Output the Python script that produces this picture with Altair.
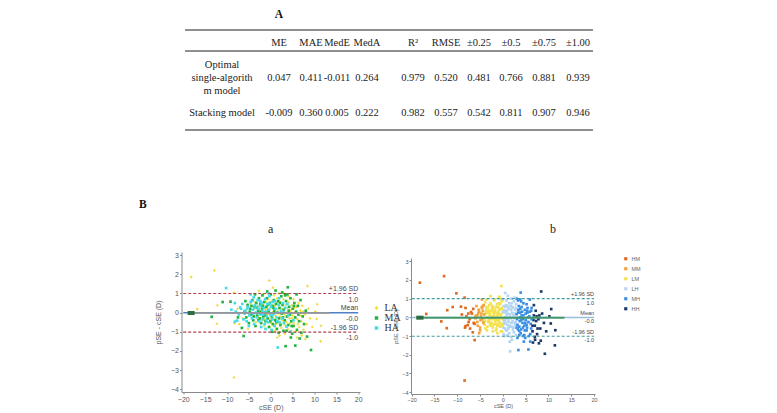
import altair as alt
import pandas as pd

# ---------------- Panel A: accuracy metrics of the two models ----------------
metric_names = ["ME", "MAE", "MedE", "MedA", "R²", "RMSE", "±0.25", "±0.5", "±0.75", "±1.00"]
optimal_single = [0.047, 0.411, -0.011, 0.264, 0.979, 0.520, 0.481, 0.766, 0.881, 0.939]
stacking = [-0.009, 0.360, 0.005, 0.222, 0.982, 0.557, 0.542, 0.811, 0.907, 0.946]
model_labels = ["Optimal\nsingle-algorith\nm model", "Stacking model"]

# ---------------- Panel B: Bland-Altman agreement (cSE vs pSE - cSE) ----------------
la_points = [
    (-18.2, 1.85), (-16.8, 0.18), (-12.9, 2.2), (-12.2, 0.38), (-12.3, -0.58), (-8.4, 1.05),
    (-8.4, -3.38), (-8.3, -0.55), (-7.6, 0.2), (-7.2, -0.6), (-6.4, -0.3), (-5.6, 0.1),
    (-5.2, -0.85), (-4.6, 0.5), (-4.2, -0.25), (-3.8, 0.2), (-3.4, -0.5), (-3.0, 0.35),
    (-2.7, 1.13), (-2.6, -0.05), (-2.3, 0.6), (-2.0, -0.4), (-1.8, 0.95), (-1.7, 0.4),
    (-1.5, -0.7), (-1.2, 0.15), (-1.0, 0.55), (-0.8, -0.1), (-0.6, 0.7), (-0.35, 1.67),
    (-0.3, -0.35), (-0.1, 0.25), (0.1, -0.55), (0.2, 0.6), (0.4, 0.0), (0.5, 1.3),
    (0.6, -0.3), (0.8, 0.9), (0.9, 0.35), (1.0, -0.95), (1.1, -0.15), (1.2, -0.6),
    (1.3, 0.5), (1.5, -1.3), (1.6, 0.15), (1.8, -0.5), (1.9, 1.0), (2.0, -1.2),
    (2.1, -0.2), (2.2, 0.55), (2.4, -0.8), (2.6, 0.2), (2.7, -0.4), (2.9, 0.7),
    (3.0, 1.0), (3.1, -0.1), (3.2, -1.1), (3.4, 0.4), (3.6, -0.5), (3.7, 0.0),
    (3.9, -0.85), (4.0, 0.85), (4.1, 0.55), (4.3, -0.3), (4.5, 0.1), (4.7, -0.95),
    (4.8, 0.4), (5.0, -0.15), (5.2, 0.7), (5.3, -0.55), (5.5, 0.0), (5.7, -1.0),
    (5.9, 0.3), (6.0, -1.3), (6.1, -0.35), (6.3, 0.5), (6.5, -0.75), (6.8, 0.1),
    (7.0, -0.45), (7.06, -1.2), (7.2, 0.35), (7.5, -0.9), (7.8, -0.1), (7.9, -1.39),
    (8.2, -0.6), (8.4, 1.38), (8.6, 0.2), (9.0, -0.3), (9.5, -0.75), (10.2, 0.05),
    (10.5, -0.33), (10.6, 0.44), (11.4, -1.5), (11.5, -0.69),
    (-3.6, 0.55), (-2.9, -0.25), (-2.1, 0.3), (-1.4, -0.35), (-0.9, 0.2), (-0.2, -0.75),
    (0.3, 0.35), (0.7, -0.7), (1.4, 0.75), (1.7, -0.05), (2.3, -0.55), (2.8, 0.15),
    (3.3, -0.65), (3.8, 0.25), (4.4, -0.55), (4.9, -0.3), (5.4, 0.25), (6.2, -0.6),
    (6.7, -0.15), (7.4, 0.05),
]
ma_points = [
    (-13.5, -0.22), (-11.0, 0.55), (-9.2, 0.57), (-6.2, -1.22), (-7.5, -0.25), (-6.6, -0.8),
    (-6.0, 0.05), (-5.8, 0.6), (-5.6, -0.25), (-5.3, 0.4), (-5.0, -0.55), (-4.7, 0.2),
    (-4.5, -0.1), (-4.2, 0.65), (-4.0, -0.4), (-3.7, 0.3), (-3.6, 0.95), (-3.5, -0.7),
    (-3.3, 0.5), (-3.1, -0.15), (-2.9, 0.1), (-2.7, 0.75), (-2.5, -0.3), (-2.4, 0.45),
    (-2.2, -0.55), (-2.0, 0.2), (-1.9, 0.9), (-1.7, -0.2), (-1.5, 0.55), (-1.4, 0.0),
    (-1.2, -0.45), (-1.0, 0.3), (-0.9, 0.75), (-0.8, 1.1), (-0.7, -0.3), (-0.5, 0.1),
    (-0.4, -0.75), (-0.2, 0.5), (0.0, 0.95), (0.2, -0.2), (0.3, -1.0), (0.4, 0.35),
    (0.5, -0.6), (0.7, 0.65), (0.8, 0.1), (1.0, -0.4), (1.1, 1.15), (1.2, 0.45),
    (1.4, -0.85), (1.5, 0.0), (1.7, 0.6), (1.8, -1.05), (1.9, -0.3), (2.0, 0.25),
    (2.2, -0.65), (2.4, 0.85), (2.5, -0.05), (2.6, 1.05), (2.7, 0.4), (2.9, -0.95),
    (3.0, 0.15), (3.2, -0.4), (3.4, -1.75), (3.5, 0.6), (3.7, -0.2), (3.8, 0.95),
    (3.9, 1.32), (4.0, -0.65), (4.2, 0.3), (4.4, -0.1), (4.5, 0.75), (4.6, -1.3),
    (4.7, -0.45), (4.9, -1.1), (5.0, 0.2), (5.2, -0.7), (5.4, 0.5), (5.6, -0.25),
    (5.6, -1.72), (5.8, 0.05), (5.9, 0.95), (6.0, -0.9), (6.2, 0.35), (6.5, -0.45),
    (6.6, -1.35), (6.8, 0.65), (7.0, -1.05), (7.3, -0.2), (7.6, -0.6), (8.0, 0.1),
    (8.3, -1.25), (9.2, -1.95),
    (-4.8, 0.05), (-4.4, 0.35), (-3.9, -0.2), (-3.2, 0.25), (-2.8, -0.4), (-2.3, 0.05),
    (-1.8, 0.35), (-1.3, -0.15), (-0.6, 0.4), (-0.1, -0.45), (0.6, 0.25), (1.3, -0.5),
    (2.1, 0.5), (2.8, -0.25), (3.3, 0.9), (3.6, -0.95), (4.1, 0.1), (4.8, -0.7),
    (5.3, 0.35), (6.3, -0.1),
]
ha_points = [
    (-10.2, 1.28), (-9.0, 0.15), (-8.2, 0.5), (-8.2, -0.47), (-8.0, 0.05), (-7.7, -0.42),
    (-7.3, -0.1), (-7.0, 0.28), (-6.8, 0.2), (-6.5, 0.45), (-6.2, -0.35), (-6.0, -0.05),
    (-5.8, 0.1), (-5.5, -0.45), (-5.4, 0.22), (-5.2, 0.3), (-5.0, -0.7), (-4.9, -0.15),
    (-4.6, 0.95), (-4.6, 0.55), (-4.4, 0.6), (-4.3, -0.3), (-4.1, 0.15), (-3.9, 0.8),
    (-3.8, -0.6), (-3.6, 0.4), (-3.4, 0.0), (-3.2, -0.25), (-3.0, 0.65), (-2.8, 0.2),
    (-2.6, -0.45), (-2.5, 0.35), (-2.3, -0.1), (-2.2, -0.75), (-2.1, 0.5), (-1.9, 0.1),
    (-1.8, -0.35), (-1.6, 0.25), (-1.4, -0.6), (-1.3, 0.7), (-1.2, -0.85), (-1.1, 0.05),
    (-0.9, -0.2), (-0.8, 0.45), (-0.6, -0.5), (-0.5, 1.0), (-0.4, 0.15), (-0.3, 0.85),
    (-0.1, -0.1), (0.1, 0.3), (0.2, -0.9), (0.3, -0.35), (0.5, 0.55), (0.7, -0.05),
    (0.9, -0.7), (1.1, 0.2), (1.3, -0.25), (1.6, -1.82), (1.8, 0.4), (1.9, 0.75),
    (2.0, -0.5), (2.3, 0.1), (2.6, -0.3), (2.8, 0.5), (2.9, 0.05), (3.0, -0.55),
    (3.3, 0.25), (3.6, -0.73), (3.8, 0.45), (4.0, -0.15), (4.4, -1.0), (5.2, -0.4),
    (-4.0, -0.05), (-3.5, 0.25), (-2.9, -0.05), (-2.4, 0.6), (-1.7, -0.1), (-1.0, -0.4),
    (-0.2, 0.45), (0.4, -0.15), (1.0, 0.6), (1.5, -0.45),
]

# agreement statistics (mean difference and 95% limits of agreement)
mean_diff = -0.009
upper_loa = 0.996
lower_loa = -1.014
line_span = [-20, 20]
trend_span = [-18.5, 13.5]
trend_level = -0.02
anchor_span = [-19.0, -17.4]

x_ticks = [-20, -15, -10, -5, 0, 5, 10, 15, 20]
y_ticks = [-4, -3, -2, -1, 0, 1, 2, 3]

axial_groups = ["LA", "MA", "HA"]
axial_colors = ["#f0da3a", "#22b33c", "#3fdcec"]
axial_shapes = ["cross", "square", "square"]
refraction_groups = ["HM", "MM", "LM", "LH", "MH", "HH"]
refraction_colors = ["#dd6a1f", "#f0a33a", "#f3e14e", "#b4d5f2", "#3a8de4", "#1e3866"]
refraction_edges = [-6, -4, 0, 3, 6.5]

# ---------------- data frames ----------------
rows = []
for grp, pts in zip(axial_groups, [la_points, ma_points, ha_points]):
    for x, y in pts:
        rows.append({"cse": x, "diff": y, "axial": grp})
points = pd.DataFrame(rows)
points["refraction"] = pd.cut(
    points["cse"], [-100] + refraction_edges + [100],
    labels=refraction_groups, right=False,
).astype(str)

limits_df = pd.DataFrame({"cse": [line_span[0]] * 2, "cse_end": [line_span[1]] * 2,
                          "diff": [upper_loa, lower_loa]})
mean_df = pd.DataFrame({"cse": [line_span[0]], "cse_end": [line_span[1]], "diff": [mean_diff]})
trend_df = pd.DataFrame({"cse": [trend_span[0]], "cse_end": [trend_span[1]], "diff": [trend_level]})
anchor_df = pd.DataFrame({"cse": [anchor_span[0]], "cse_end": [anchor_span[1]], "diff": [trend_level]})
stat_labels = pd.DataFrame({
    "cse": [line_span[1]] * 3,
    "diff": [upper_loa, mean_diff, lower_loa],
    "name": ["+1.96 SD", "Mean", "-1.96 SD"],
    "value": [f"{v:.1f}" for v in (upper_loa, mean_diff, lower_loa)],
})

# ---------------- table layout ----------------
table_w, table_h = 470, 158
table_font = 10.5
line_gap = 13
column_x = dict(zip(["model"] + metric_names, [92, 149, 181, 207, 237, 283, 316, 349, 381, 414, 448]))
row_y = {"panel": 15, "header": 43, "optimal": 78, "stacking": 113}
rule_y = [30, 51, 130]
rule_x = [55, 463]

cells = [{"col": m, "row": "header", "text": m, "shift": 0} for m in metric_names]
cells += [{"col": m, "row": "optimal", "text": f"{v:.3f}", "shift": 0}
          for m, v in zip(metric_names, optimal_single)]
cells += [{"col": m, "row": "stacking", "text": f"{v:.3f}", "shift": 0}
          for m, v in zip(metric_names, stacking)]
for row_key, label in zip(["optimal", "stacking"], model_labels):
    parts = label.split("\n")
    for i, part in enumerate(parts):
        cells.append({"col": "model", "row": row_key, "text": part,
                      "shift": (i - (len(parts) - 1) / 2) * line_gap})
cell_df = pd.DataFrame(cells)
cell_df["px"] = cell_df["col"].map(column_x)
cell_df["py"] = cell_df["row"].map(row_y) + cell_df["shift"]

panel_df = pd.DataFrame({"px": [column_x["ME"]], "py": [row_y["panel"]], "text": ["A"]})
rule_df = pd.DataFrame({"px": [rule_x[0]] * 3, "px_end": [rule_x[1]] * 3, "py": rule_y})

tx = alt.X("px:Q", scale=alt.Scale(domain=[0, table_w], range=[0, table_w]), axis=None)
ty = alt.Y("py:Q", scale=alt.Scale(domain=[0, table_h], range=[0, table_h]), axis=None)

table_text = alt.Chart(cell_df).mark_text(
    font="Liberation Serif", fontSize=table_font, color="#222", baseline="middle"
).encode(x=tx, y=ty, text="text:N")
table_panel = alt.Chart(panel_df).mark_text(
    font="Liberation Serif", fontSize=11.5, fontWeight="bold", color="#111"
).encode(x=tx, y=ty, text="text:N")
table_rules = alt.Chart(rule_df).mark_rule(color="#6a6a6a", strokeWidth=1.3).encode(
    x=tx, x2="px_end:Q", y=ty
)
table = alt.layer(table_rules, table_text, table_panel).properties(width=table_w, height=table_h)


# ---------------- Bland-Altman plot builder ----------------
def ba_plot(color_field, groups, colors, shapes, x_dom, y_dom, w, h, font_size,
            axis_color, loa_color, mean_color, trend_color, legend, point_size,
            tick_size, y_title_pad, title):
    axis_style = dict(labelFont="Liberation Sans", labelFontSize=font_size, labelColor="#555",
                      titleFont="Liberation Sans", titleFontSize=font_size,
                      titleFontWeight="normal", titleColor="#555", domainColor=axis_color,
                      tickColor=axis_color, tickSize=tick_size, grid=False, labelPadding=1,
                      labelOverlap=False, labelFlush=False)
    xs = alt.Scale(domain=x_dom, nice=False, zero=False)
    ys = alt.Scale(domain=y_dom, nice=False, zero=False)
    x_enc = alt.X("cse:Q", scale=xs,
                  axis=alt.Axis(values=x_ticks, tickCount=len(x_ticks), title="cSE (D)",
                                titlePadding=1, **axis_style))
    y_enc = alt.Y("diff:Q", scale=ys,
                  axis=alt.Axis(values=y_ticks, tickCount=len(y_ticks), title="pSE - cSE (D)",
                                titlePadding=y_title_pad, **axis_style))
    enc = dict(
        x=x_enc, y=y_enc,
        color=alt.Color(f"{color_field}:N", scale=alt.Scale(domain=groups, range=colors),
                        legend=legend),
    )
    if shapes is not None:
        enc["shape"] = alt.Shape(f"{color_field}:N", scale=alt.Scale(domain=groups, range=shapes),
                                 legend=legend)
        mark = alt.Chart(points).mark_point(filled=True, size=point_size, opacity=1)
    else:
        mark = alt.Chart(points).mark_point(filled=True, size=point_size, opacity=1, shape="square")
    pts_layer = mark.encode(**enc)

    def seg(df, **style):
        return alt.Chart(df).mark_rule(**style).encode(x=x_enc, x2="cse_end:Q", y=y_enc)

    trend = seg(trend_df, color=trend_color, strokeWidth=2, opacity=0.85)
    anchor = seg(anchor_df, color="#2b6e40", strokeWidth=4)
    mean_line = seg(mean_df, color=mean_color, strokeWidth=1.6)
    loa = seg(limits_df, color=loa_color, strokeWidth=1.2, strokeDash=[3, 2])
    names = alt.Chart(stat_labels).mark_text(
        align="right", baseline="bottom", dy=-1.5, font="Liberation Sans",
        fontSize=font_size, color="#444").encode(x=x_enc, y=y_enc, text="name:N")
    values = alt.Chart(stat_labels).mark_text(
        align="right", baseline="top", dy=2, font="Liberation Sans",
        fontSize=font_size, color="#444").encode(x=x_enc, y=y_enc, text="value:N")
    return alt.layer(pts_layer, mean_line, trend, anchor, loa, names, values).properties(
        width=w, height=h, title=title)


legend_a = alt.Legend(title=None, orient="none", legendX=190, legendY=51, padding=0,
                      labelFont="Liberation Serif", labelFontSize=10, labelColor="#333",
                      symbolSize=12, rowPadding=0, labelOffset=3)
plot_a = ba_plot(
    "axial", axial_groups, axial_colors, axial_shapes,
    [-20.4, 20.4], [-4.14, 3.16], 178.5, 140, 7,
    "#8a8a8a", "#b0404c", "#4f7fc4", "#9a9a9a", legend_a, 7, 2, 9,
    alt.TitleParams("a", font="Liberation Serif", fontSize=12, fontWeight="normal",
                    color="#222", offset=15),
)

legend_b = alt.Legend(title=None, orient="none", legendX=212, legendY=-2, padding=0,
                      labelFont="Liberation Sans", labelFontSize=5.5, labelColor="#666",
                      symbolSize=10, symbolType="square", rowPadding=3, labelOffset=3)
plot_b = ba_plot(
    "refraction", refraction_groups, refraction_colors, None,
    [-20.15, 20.2], [-4.1, 3.17], 184, 136, 5.5,
    "#8a8a8a", "#3f9c9c", "#9dbbdb", "#2f8f55", legend_b, 7, 2, 3,
    alt.TitleParams("b", font="Liberation Serif", fontSize=12, fontWeight="normal",
                    color="#222", offset=20, dx=50),
)

# panel letter B and a thin spacer that drops plot b a few pixels
b_letter = alt.Chart(pd.DataFrame({"t": ["B"]})).mark_text(
    font="Liberation Serif", fontSize=11.5, fontWeight="bold", color="#111", align="left"
).encode(text="t:N", x=alt.value(9), y=alt.value(-47)).properties(width=1, height=140)
spacer = alt.Chart(pd.DataFrame({"t": [0]})).mark_point(opacity=0).encode(
    x=alt.value(0), y=alt.value(0)).properties(width=1, height=1)

b_column = alt.vconcat(spacer, plot_b, spacing=5, bounds="flush").resolve_scale(
    color="independent", shape="independent").resolve_legend(color="independent")
row = alt.hconcat(b_letter, plot_a, b_column, spacing=50.5, bounds="flush").resolve_scale(
    color="independent", shape="independent").resolve_legend(color="independent", shape="independent")

chart = alt.vconcat(table, row, spacing=94, bounds="flush").properties(
    padding={"left": 130, "top": 0, "right": 4, "bottom": 4}
).configure_view(stroke=None)

chart.save("out.html", embed_options={"renderer": "svg", "actions": False})
